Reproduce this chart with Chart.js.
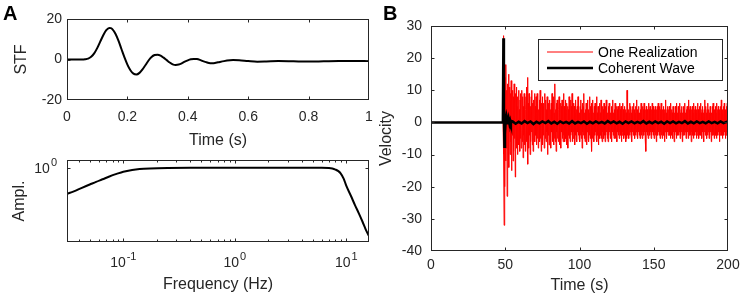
<!DOCTYPE html>
<html>
<head>
<meta charset="utf-8">
<script src="https://cdn.jsdelivr.net/npm/chart.js@4.4.1/dist/chart.umd.min.js"></script>
<style>
  html, body { margin: 0; padding: 0; background: #fff; }
  #wrap { position: relative; width: 740px; height: 298px; overflow: hidden; }
  canvas { position: absolute; }
  .lbl { position: absolute; font: bold 20px "Liberation Sans", Arial, sans-serif; line-height: 20px; color: #000; }
</style>
</head>
<body>
<div id="wrap">
  <canvas id="stf" width="380" height="150" style="left:0;top:0"></canvas>
  <canvas id="amp" width="380" height="153" style="left:0;top:145px"></canvas>
  <canvas id="vel" width="368" height="298" style="left:372px;top:0"></canvas>
  <div class="lbl" style="left:3px;top:3px">A</div>
  <div class="lbl" style="left:383px;top:3px">B</div>
</div>
<script>
// --- panel A top: source time function ---
const stfT = [0, 0.05, 0.06, 0.07, 0.08, 0.09, 0.10, 0.11, 0.12, 0.13,
  0.14, 0.145, 0.15, 0.16, 0.17, 0.18, 0.19, 0.20, 0.21, 0.22,
  0.23, 0.24, 0.25, 0.26, 0.27, 0.28, 0.29, 0.30, 0.31, 0.32,
  0.33, 0.34, 0.35, 0.36, 0.37, 0.38, 0.39, 0.40, 0.41, 0.42,
  0.43, 0.44, 0.45, 0.46, 0.47, 0.48, 0.49, 0.50, 0.52, 0.54,
  0.55, 0.57, 0.60, 0.63, 0.66, 0.70, 0.75, 0.80, 0.85, 0.90,
  0.95, 1.00];
const stfV = [0, 0, 0.1, 0.4, 1.3, 3.0, 5.6, 8.8, 12.0, 14.5,
  15.6, 15.5, 15.0, 12.8, 9.4, 5.3, 1.2, -2.5, -5.3, -7.0,
  -7.4, -6.6, -4.9, -2.7, -0.5, 1.2, 2.2, 2.4, 1.9, 0.9,
  -0.3, -1.5, -2.4, -2.7, -2.5, -1.9, -1.1, -0.4, 0.1, 0.3,
  0.2, -0.2, -0.8, -1.3, -1.7, -1.8, -1.7, -1.4, -0.8, -0.4,
  -0.3, -0.4, -0.8, -1.1, -1.0, -0.8, -0.9, -1.0, -0.9, -0.8,
  -0.8, -0.8];

// --- panel A bottom: amplitude spectrum ---
const ampF = [0.03125, 0.036, 0.042, 0.05, 0.057, 0.065, 0.075, 0.087, 0.1, 0.12,
  0.14, 0.174, 0.25, 0.4, 1, 3, 6, 7, 7.5, 8, 8.5, 8.87, 9.5, 10, 11, 12, 13, 14, 15, 16];
const ampA = [0.475, 0.51, 0.56, 0.62, 0.67, 0.72, 0.78, 0.84, 0.895, 0.94,
  0.965, 0.982, 0.995, 1, 1, 1, 1, 0.995, 0.98, 0.95, 0.91, 0.86, 0.73, 0.6, 0.45, 0.342, 0.27, 0.214, 0.17, 0.142];
const freqTickExps = [-1, 0, 1];
const ampTickExps = [0];

// --- panel B: velocity seismograms ---
const redT0 = 48.5, redDt = 0.25;
const redV = [
  0, 27, -10, -32, 12, -20,
  14, -12, 18, -8, 10, -23, 6, 12, -9, 15, -14, 4, 11, -10, 9, -6, 13, -15, 7, -4,
  10, -12, 8, -9, 12, -5, 6, -17, 9, -3, 11, -8, 5, -10, 8, -6, 10, -7, 4, -9,
  7, -5, 9, -8, 3, 10, -6, 8, -11, 5, -4, 9, -7, 6, -9, 4, 8, -6, 11, -5,
  14, -13, 6, -8, 9, -4, 7, -10, 5, -6, 8, -3, 10, -7, 6, -9, 4, 7, -5, 9,
  -6, 5, -4, 8, -7, 3, 9, -5, 6, -8, 4, -3, 7, -6, 10, -5, 4, -9, 6, -2,
  8, -7, 5, -4, 6, -8, 3, 9, -5, 7, -6, 4, -3, 8, -10, 5, -4, 6, -7, 3,
  7, -5, 4, -8, 6, -3, 9, -6, 5, -4, 8, -7, 3, -5, 12, -6, 4, -9, 6, -3,
  7, -5, 5, -6, 4, 8, -7, 3, -4, 6, -8, 5, -3, 7, -5, 4, -6, 9, -4, 5,
  -6, 3, 7, -5, 4, -7, 6, -3, 5, -8, 4, -4, 8, -5, 3, -6, 7, -4, 5, -3,
  9, -6, 4, -5, 6, -3, 5, -7, 3, -4, 7, -5, 4, -6, 5, -3, 8, -4, 6, -5,
  3, -6, 5, -4, 7, -5, 4, -8, 6, -3, 5, -4, 9, -5, 3, -6, 4, -4, 6, -7,
  5, -3, 7, -5, 4, -6, 3, -4, 8, -5, 5, -3, 6, -9, 4, -5, 7, -4, 3, -6,
  5, -4, 6, -3, 4, -5, 8, -6, 3, -4, 5, -7, 4, -3, 6, -5, 3, -4, 7, -5,
  4, -6, 5, -3, 4, -5, 6, -4, 3, -6, 5, -4, 7, -3, 4, -5, 3, -6, 5, -4,
  6, -3, 4, -5, 3, -4, 5, -6, 4, -3, 7, -4, 3, -5, 4, -3, 6, -5, 3, -4,
  5, -6, 4, -3, 5, -4, 3, -5, 6, -3, 4, -4, 5, -6, 3, -4, 6, -3, 4, -5,
  3, -4, 5, -3, 4, -6, 3, -5, 10, -4, 5, -3, 4, -5, 3, -4, 6, -3, 5, -4,
  3, -6, 4, -3, 5, -4, 6, -3, 4, -5, 3, -4, 5, -3, 7, -4, 4, -5, 3, -3,
  5, -4, 3, -5, 4, -3, 6, -4, 3, -5, 5, -3, 4, -4, 6, -3, 3, -5, 4, -9,
  5, -3, 4, -4, 3, -5, 6, -3, 4, -4, 5, -3, 3, -5, 4, -4, 6, -3, 5, -4,
  3, -5, 4, -3, 5, -4, 3, -6, 4, -3, 5, -4, 6, -3, 3, -4, 5, -5, 4, -3,
  6, -4, 3, -5, 4, -3, 5, -4, 3, -6, 4, -3, 7, -4, 3, -5, 4, -3, 5, -4,
  4, -3, 5, -4, 3, -5, 6, -3, 4, -4, 3, -5, 5, -3, 4, -6, 3, -4, 5, -3,
  4, -5, 6, -3, 3, -4, 5, -4, 4, -3, 6, -5, 3, -4, 4, -3, 5, -6, 3, -4,
  5, -3, 4, -4, 6, -3, 3, -5, 4, -4, 5, -3, 3, -5, 7, -4, 4, -3, 5, -4,
  3, -6, 4, -3, 5, -4, 3, -5, 6, -3, 4, -4, 5, -3, 3, -5, 4, -4, 6, -3,
  4, -5, 3, -4, 5, -3, 6, -4, 3, -5, 4, -3, 5, -4, 3, -6, 4, -3, 7, -4,
  5, -3, 3, -5, 4, -4, 6, -3, 4, -5, 3, -4, 5, -3, 4, -6, 3, -4, 5, -3,
  6, -4, 3, -5, 4, -3, 5, -4, 3, -5, 6, -3, 4, -4, 5, -3, 3, -6, 4, -4,
  5, -3, 7, -4, 3, -5, 4, -3, 5, -4, 6, -3, 3, -5, 4, -4, 5, -3, 6, -4,
  3];
const blackT = [0, 48.4, 48.75, 49.1, 49.45, 49.8, 50.3, 50.8, 51.3, 51.8, 52.3, 52.8, 53.3, 53.8, 54.3];
const blackV = [0, 0, 26.2, 4, -7.6, -3.5, 0.8, 2.3, 1.4, -0.6, 1.0, -0.3, 0.6, -0.4, 0.4];
const fuzzT0 = 55, fuzzDt = 2;
const blackFuzz = [
  0.3, -0.4, 0.2, -0.3, 0.4, -0.2, 0.3, -0.5, 0.2, -0.3,
  0.3, -0.2, 0.4, -0.3, 0.2, -0.4, 0.3, -0.2, 0.2, -0.3,
  0.4, -0.3, 0.2, -0.2, 0.3, -0.4, 0.2, -0.3, 0.3, -0.2,
  0.2, -0.3, 0.4, -0.2, 0.3, -0.3, 0.2, -0.4, 0.3, -0.2,
  0.3, -0.3, 0.2, -0.2, 0.4, -0.3, 0.2, -0.3, 0.3, -0.2,
  0.2, -0.4, 0.3, -0.2, 0.3, -0.3, 0.2, -0.2, 0.4, -0.3,
  0.2, -0.3, 0.3, -0.2, 0.2, -0.3, 0.3, -0.2, 0.2, -0.3,
  0.3, -0.2, 0.2, -0.3];
const seriesNames = ['Coherent Wave', 'One Realization'];

const ink = '#262626';
Chart.defaults.font.family = '"Liberation Sans", Arial, Helvetica, sans-serif';
Chart.defaults.color = ink;

// MATLAB-like box with inward ticks
function axesBox(extra) {
  extra = extra || {};
  return {
    id: 'axesBox',
    afterDatasetsDraw(chart) {
      const {ctx, chartArea: a, scales: {x, y}} = chart;
      const l = Math.round(a.left) + 0.5, r = Math.round(a.right) - 0.5;
      const t = Math.round(a.top) + 0.5, b = Math.round(a.bottom) - 0.5;
      const xs = extra.xMajor || x.ticks.map(k => k.value);
      const ys = extra.yMajor || y.ticks.map(k => k.value);
      ctx.save();
      ctx.strokeStyle = ink;
      ctx.lineWidth = 1;
      ctx.strokeRect(l, t, r - l, b - t);
      ctx.beginPath();
      const xMark = (v, len) => {
        const p = Math.round(x.getPixelForValue(v)) + 0.5;
        if (p <= l + 1 || p >= r - 1) return;
        ctx.moveTo(p, b); ctx.lineTo(p, b - len);
        ctx.moveTo(p, t); ctx.lineTo(p, t + len);
      };
      const yMark = (v, len) => {
        const p = Math.round(y.getPixelForValue(v)) + 0.5;
        if (p <= t + 1 || p >= b - 1) return;
        ctx.moveTo(l, p); ctx.lineTo(l + len, p);
        ctx.moveTo(r, p); ctx.lineTo(r - len, p);
      };
      xs.forEach(v => xMark(v, 3));
      (extra.xMinor || []).forEach(v => xMark(v, 2));
      ys.forEach(v => yMark(v, 3));
      ctx.stroke();
      ctx.restore();
    }
  };
}

// "10" with raised exponent, like MATLAB log tick labels
function powerLabel(ctx, e, cx, baseY, alignRight) {
  const base = '10', exp = String(e);
  ctx.font = '14px "Liberation Sans", Arial, sans-serif';
  const wb = ctx.measureText(base).width;
  ctx.font = '11px "Liberation Sans", Arial, sans-serif';
  const we = ctx.measureText(exp).width;
  const x0 = alignRight ? cx - wb - we - 1 : cx - (wb + we + 1) / 2;
  ctx.fillStyle = ink;
  ctx.textAlign = 'left';
  ctx.textBaseline = 'alphabetic';
  ctx.font = '14px "Liberation Sans", Arial, sans-serif';
  ctx.fillText(base, x0, baseY);
  ctx.font = '11px "Liberation Sans", Arial, sans-serif';
  ctx.fillText(exp, x0 + wb + 1, baseY - 7);
}

const logLabels = {
  id: 'logLabels',
  afterDraw(chart) {
    const {ctx, chartArea: a, scales: {x, y}} = chart;
    ctx.save();
    freqTickExps.forEach(e => powerLabel(ctx, e, x.getPixelForValue(Math.pow(10, e)), a.bottom + 25, false));
    ampTickExps.forEach(e => powerLabel(ctx, e, a.left - 10, y.getPixelForValue(Math.pow(10, e)) + 5, true));
    ctx.restore();
  }
};

const legendBox = {
  id: 'legendBox',
  afterDatasetsDraw(chart) {
    const ctx = chart.ctx;
    const bx = 166.5, by = 39.5, bw = 184, bh = 41;
    ctx.save();
    ctx.fillStyle = '#fff';
    ctx.fillRect(bx, by, bw, bh);
    ctx.strokeStyle = ink;
    ctx.lineWidth = 1;
    ctx.strokeRect(bx, by, bw, bh);
    [1, 0].forEach((di, row) => {
      const ds = chart.data.datasets[di];
      const yy = 52 + row * 16;
      ctx.strokeStyle = ds.borderColor;
      ctx.lineWidth = ds.borderWidth;
      ctx.beginPath();
      ctx.moveTo(175, yy); ctx.lineTo(221, yy);
      ctx.stroke();
      ctx.fillStyle = '#000';
      ctx.font = '14px "Liberation Sans", Arial, sans-serif';
      ctx.textAlign = 'left';
      ctx.textBaseline = 'middle';
      ctx.fillText(ds.label, 226, yy + 1);
    });
    ctx.restore();
  }
};

function noPad(s) { s.paddingLeft = 0; s.paddingRight = 0; s.paddingTop = 0; s.paddingBottom = 0; }

const common = {
  responsive: false,
  animation: false,
  devicePixelRatio: 1,
  plugins: { legend: { display: false }, tooltip: { enabled: false } }
};
const flat = { grid: { display: false, drawTicks: false }, border: { display: false } };

// STF
new Chart(document.getElementById('stf'), {
  type: 'line',
  data: {
    datasets: [{
      data: stfT.map((t, i) => ({ x: t, y: stfV[i] })),
      borderColor: '#000', borderWidth: 2, pointRadius: 0,
      cubicInterpolationMode: 'monotone'
    }]
  },
  options: Object.assign({}, common, {
    layout: { padding: { top: 19, right: 11, left: 0, bottom: 0 } },
    scales: {
      x: Object.assign({}, flat, {
        type: 'linear', min: 0, max: 1,
        afterFit: s => { s.height = 50; noPad(s); },
        ticks: { stepSize: 0.2, padding: 9, maxRotation: 0, autoSkip: false, font: { size: 14 },
                 callback: v => String(+v.toFixed(1)) },
        title: { display: true, text: 'Time (s)', font: { size: 16 }, padding: { top: 0, bottom: 0 } }
      }),
      y: Object.assign({}, flat, {
        min: -20, max: 20,
        afterFit: s => { s.width = 67; noPad(s); },
        ticks: { stepSize: 20, padding: 5, font: { size: 14 } },
        title: { display: true, text: 'STF', font: { size: 16 }, padding: { top: 12, bottom: 0 } }
      })
    }
  }),
  plugins: [axesBox()]
});

// amplitude spectrum
const minorF = [];
for (let k = -2; k <= 1; k++) for (let d = 2; d <= 9; d++) minorF.push(d * Math.pow(10, k));
new Chart(document.getElementById('amp'), {
  type: 'line',
  data: {
    datasets: [{
      data: ampF.map((f, i) => ({ x: f, y: ampA[i] })),
      borderColor: '#000', borderWidth: 2, pointRadius: 0,
      cubicInterpolationMode: 'monotone'
    }]
  },
  options: Object.assign({}, common, {
    layout: { padding: { top: 15, right: 11, left: 0, bottom: 0 } },
    scales: {
      x: Object.assign({}, flat, {
        type: 'logarithmic', min: 1 / 32, max: 16,
        afterFit: s => { s.height = 56; noPad(s); },
        ticks: { display: false },
        title: { display: true, text: 'Frequency (Hz)', font: { size: 16 }, padding: { top: 0, bottom: 4 } }
      }),
      y: Object.assign({}, flat, {
        type: 'logarithmic', min: 0.12, max: 1.25,
        afterFit: s => { s.width = 67; noPad(s); },
        ticks: { display: false },
        title: { display: true, text: 'Ampl.', font: { size: 16 }, padding: { top: 10, bottom: 0 } }
      })
    }
  }),
  plugins: [axesBox({ xMajor: freqTickExps.map(e => Math.pow(10, e)), xMinor: minorF, yMajor: ampTickExps.map(e => Math.pow(10, e)) }), logLabels]
});

// velocity
const blackData = blackT.map((t, i) => ({ x: t, y: blackV[i] }))
  .concat(blackFuzz.map((v, i) => ({ x: fuzzT0 + i * fuzzDt, y: v })));
const redData = [{ x: 0, y: 0 }].concat(redV.map((v, i) => ({ x: redT0 + i * redDt, y: v })));
new Chart(document.getElementById('vel'), {
  type: 'line',
  data: {
    datasets: [
      { label: seriesNames[0], data: blackData, borderColor: '#000', borderWidth: 2.5, pointRadius: 0, tension: 0 },
      { label: seriesNames[1], data: redData, borderColor: '#ff0000', borderWidth: 1, pointRadius: 0, tension: 0 }
    ]
  },
  options: Object.assign({}, common, {
    layout: { padding: { top: 26, right: 12, left: 0, bottom: 0 } },
    scales: {
      x: Object.assign({}, flat, {
        type: 'linear', min: 0, max: 200,
        afterFit: s => { s.height = 47; noPad(s); },
        ticks: { stepSize: 50, padding: 6, maxRotation: 0, autoSkip: false, font: { size: 14 } },
        title: { display: true, text: 'Time (s)', font: { size: 16 }, padding: { top: 0, bottom: 3 } }
      }),
      y: Object.assign({}, flat, {
        min: -40, max: 30,
        afterFit: s => { s.width = 59; noPad(s); },
        ticks: { stepSize: 10, padding: 9, font: { size: 14 } },
        title: { display: true, text: 'Velocity', font: { size: 16 }, padding: { top: 5, bottom: 0 } }
      })
    }
  }),
  plugins: [axesBox(), legendBox]
});
</script>
</body>
</html>
